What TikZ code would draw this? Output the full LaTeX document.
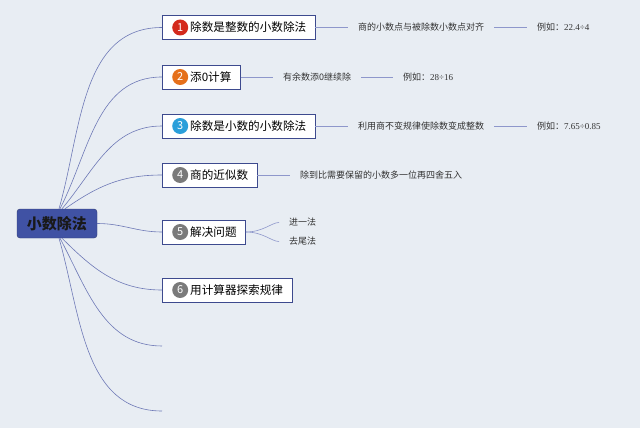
\documentclass[tikz,border=0pt]{standalone}
\usepackage{fontspec}
\newfontfamily\cjk{Noto Sans CJK SC}
\newfontfamily\numf{Liberation Serif}
\usetikzlibrary{positioning}
\definecolor{bgcol}{HTML}{E8EDF3}
\definecolor{rootcol}{HTML}{4052A4}
\definecolor{boxline}{HTML}{3D4A8E}
\definecolor{linkcol}{HTML}{6E79B6}
\definecolor{sublink}{HTML}{8E97CB}
\definecolor{txtcol}{HTML}{333333}
\definecolor{dotred}{HTML}{D42A1C}
\definecolor{dotorange}{HTML}{E5701B}
\definecolor{dotblue}{HTML}{2B9FDA}
\definecolor{dotgray}{HTML}{7A7A7A}
\tikzset{
  rootbox/.style={draw=boxline!80!black, fill=rootcol, rounded corners=3pt, minimum width=80pt, minimum height=29pt, inner sep=0pt, font=\cjk\bfseries\fontsize{15}{15}\selectfont, text=black!90},
  branchbox/.style={draw=boxline, fill=white, anchor=west, minimum height=24pt, inner ysep=0pt, inner xsep=9pt, font=\cjk\fontsize{11.6}{12}\selectfont},
  numdot/.style={circle, fill=#1, minimum size=16pt, inner sep=0pt, text=white, font=\cjk\fontsize{11}{11}\selectfont},
  leaf/.style={anchor=west, inner sep=0pt, text=txtcol, font=\cjk\fontsize{9}{9}\selectfont},
  mainlink/.style={draw=linkcol, line width=0.6pt},
  sublinkline/.style={draw=sublink, line width=0.8pt},
}
\begin{document}
\begin{tikzpicture}[x=1pt, y=-1pt]
			%%%%% START %%%%%
			\fill[bgcol] (0,0) rectangle (640,428);
			\useasboundingbox (0,0) rectangle (640,428);
			
			% root
			\node[rootbox] (root) at (57,223.5) {小数除法};
			
			% first level
			\node[branchbox] (b1) at (162,27.5) {\hspace*{19pt}除数是整数的小数除法};
			\node[branchbox] (b2) at (162,77) {\hspace*{19pt}添0计算};
			\node[branchbox] (b3) at (162,126) {\hspace*{19pt}除数是小数的小数除法};
			\node[branchbox] (b4) at (162,175) {\hspace*{19pt}商的近似数};
			\node[branchbox] (b5) at (162,232) {\hspace*{19pt}解决问题};
			\node[branchbox] (b6) at (162,290) {\hspace*{19pt}用计算器探索规律};
			\coordinate (e7) at (162,346);
			\coordinate (e8) at (162,411);
			
			\node[numdot=dotred, right=10pt of b1.west] (n1) {1};
			\node[numdot=dotorange, right=10pt of b2.west] (n2) {2};
			\node[numdot=dotblue, right=10pt of b3.west] (n3) {3};
			\node[numdot=dotgray, right=10pt of b4.west] (n4) {4};
			\node[numdot=dotgray, right=10pt of b5.west] (n5) {5};
			\node[numdot=dotgray, right=10pt of b6.west] (n6) {6};
			
			\draw[mainlink] ([xshift=2pt]root.north) to[out=74,in=180] (b1.west);
			\draw[mainlink] ([xshift=3pt]root.north) to[out=63,in=180] (b2.west);
			\draw[mainlink] ([xshift=5pt]root.north) to[out=50,in=180] (b3.west);
			\draw[mainlink] ([xshift=8pt]root.north) to[out=35,in=180] (b4.west);
			\draw[mainlink] (root.east) to[out=0,in=180] (b5.west);
			\draw[mainlink] ([xshift=5pt]root.south) to[out=-45,in=180] (b6.west);
			\draw[mainlink] ([xshift=3pt]root.south) to[out=-62,in=180] (e7);
			\draw[mainlink] ([xshift=2pt]root.south) to[out=-74,in=180] (e8);
			
			% second level
			\node[leaf] (t1) at (358,27.5) {商的小数点与被除数小数点对齐};
			\node[leaf] (x1) at (537,27.5) {例如：{\numf 22.4÷4}};
			\node[leaf] (t2) at (283,77) {有余数添0继续除};
			\node[leaf] (x2) at (403,77) {例如：{\numf 28÷16}};
			\node[leaf] (t3) at (358,126) {利用商不变规律使除数变成整数};
			\node[leaf] (x3) at (537,126) {例如：{\numf 7.65÷0.85}};
			\node[leaf] (t4) at (300,175) {除到比需要保留的小数多一位再四舍五入};
			\node[leaf] (t5a) at (289,222.5) {进一法};
			\node[leaf] (t5b) at (289,241.5) {去尾法};
			
			\draw[sublinkline, shorten >=10pt] (b1.east) -- (t1.west);
			\draw[sublinkline, shorten <=10pt, shorten >=10pt] (t1.east) -- (x1.west);
			\draw[sublinkline, shorten >=10pt] (b2.east) -- (t2.west);
			\draw[sublinkline, shorten <=10pt, shorten >=10pt] (t2.east) -- (x2.west);
			\draw[sublinkline, shorten >=10pt] (b3.east) -- (t3.west);
			\draw[sublinkline, shorten <=10pt, shorten >=10pt] (t3.east) -- (x3.west);
			\draw[sublinkline, shorten >=10pt] (b4.east) -- (t4.west);
			\draw[sublinkline, line width=0.6pt, shorten >=10pt] (b5.east) to[out=0,in=180] (t5a.west);
			\draw[sublinkline, line width=0.6pt, shorten >=10pt] (b5.east) to[out=0,in=180] (t5b.west);
			%%%%% END %%%%%
\end{tikzpicture}
\end{document}
